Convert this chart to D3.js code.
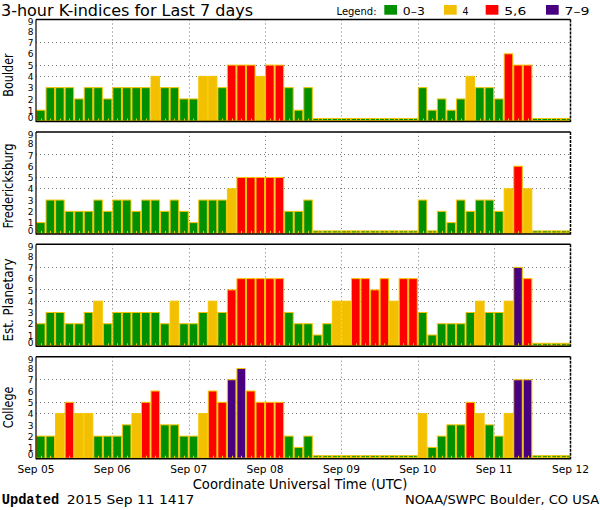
<!DOCTYPE html>
<html><head><meta charset="utf-8">
<script src="https://d3js.org/d3.v7.min.js"></script>
<style>body{margin:0;background:#fff}svg{display:block}</style>
</head><body>
<script>
const stations = ["Boulder", "Fredericksburg", "Est. Planetary", "College"];
const dayLabels = ["Sep 05", "Sep 06", "Sep 07", "Sep 08", "Sep 09", "Sep 10", "Sep 11", "Sep 12"];
const yTicks = [0,1,2,3,4,5,6,7,8,9];
const gridLevels = [4,5,7];
const boulder = [1,3,3,3,2,3,3,2, 3,3,3,3,4,3,3,2, 2,4,4,3,5,5,5,4, 5,5,3,1,3,0,0,0, 0,0,0,0,0,0,0,0, 3,1,2,1,2,4,3,3, 2,6,5,5,0,0,0,0];
const fredericksburg = [1,3,3,2,2,2,3,2, 3,3,2,3,3,2,3,2, 1,3,3,3,4,5,5,5, 5,5,2,2,3,0,0,0, 0,0,0,0,0,0,0,0, 3,0,2,1,3,2,3,3, 2,4,6,4,0,0,0,0];
const planetary = [2,3,3,2,2,3,4,2, 3,3,3,3,3,2,4,2, 2,3,4,3,5,6,6,6, 6,6,3,2,2,1,2,4, 4,6,6,5,6,4,6,6, 3,1,2,2,2,3,4,3, 3,4,7,6,0,0,0,0];
const college = [2,2,4,5,4,4,2,2, 2,3,4,5,6,3,3,2, 2,4,6,5,7,8,6,5, 5,5,2,1,2,0,0,0, 0,0,0,0,0,0,0,0, 4,1,2,3,3,5,4,3, 2,4,7,7,0,0,0,0];
const seriesList = [boulder, fredericksburg, planetary, college];
const legendLabels = ["0\u20133", "4", "5,6", "7\u20139"];

const W = 600, H = 510;
const COL = {green:"#009000", yellow:"#f2c000", red:"#ff0000", purple:"#480080", edge:"#f5c400"};
function colorFor(v){ return v<=3?COL.green : v===4?COL.yellow : v<=6?COL.red : COL.purple; }

const svg = d3.select("body").append("svg").attr("width",W).attr("height",H);
const x = d3.scaleLinear().domain([0,56]).range([36,570.5]);
const panelTop0 = 19.5, panelStep = 112.4, panelH = 101.5;
const font = "'DejaVu Sans', sans-serif";

// title
svg.append("text").attr("x",1).attr("y",16).attr("font-family",font).attr("font-size",16)
  .attr("textLength",252).attr("lengthAdjust","spacingAndGlyphs").text("3-hour K-indices for Last 7 days");

// legend
svg.append("text").attr("x",336.5).attr("y",14.5).attr("font-family",font).attr("font-size",11)
  .attr("textLength",40).attr("lengthAdjust","spacingAndGlyphs").text("Legend:");
const legendCols = [COL.green, COL.yellow, COL.red, COL.purple];
const legX = [384.3, 444, 485.7, 546];
const legTW = [22, 6, 22, 25];
legendLabels.forEach((t,i)=>{
  svg.append("rect").attr("x",legX[i]).attr("y",5).attr("width",12.7).attr("height",9.7).attr("fill",legendCols[i]);
  svg.append("text").attr("x",legX[i]+18.5).attr("y",14.5).attr("font-family",font).attr("font-size",11)
    .attr("textLength",legTW[i]).attr("lengthAdjust","spacingAndGlyphs").text(t);
});

const titleCenter = [75, 186, 300, 407.5];
const titleLen = [43.4, 85, 83, 41.7];

seriesList.forEach((data, p)=>{
  const top = panelTop0 + p*panelStep, bot = top + panelH;
  const y = d3.scaleLinear().domain([0,9]).range([bot, top]);
  const g = svg.append("g");
  // grid
  gridLevels.forEach(l=>{
    g.append("line").attr("x1",x(0)).attr("x2",x(56)).attr("y1",Math.round(y(l))+0.5).attr("y2",Math.round(y(l))+0.5)
      .attr("stroke","#777").attr("stroke-dasharray","1,3");
  });
  for(let d=1; d<7; d++){
    g.append("line").attr("x1",Math.round(x(d*8))+0.5).attr("x2",Math.round(x(d*8))+0.5).attr("y1",top).attr("y2",bot)
      .attr("stroke","#777").attr("stroke-dasharray","1,3");
  }
  // bars
  g.selectAll("rect.bar").data(data).enter().append("rect").attr("class","bar")
    .attr("x",(d,i)=>x(i)+0.5).attr("width",(d,i)=>x(i+1)-x(i)-1)
    .attr("y",d=> d>0 ? y(d)+0.5 : bot-2.5)
    .attr("height",d=> d>0 ? bot-y(d)-0.5 : 2)
    .attr("fill",d=>colorFor(d)).attr("stroke",COL.edge).attr("stroke-width",1);
  // small ticks at bar centres
  g.selectAll("line.tk").data(data).enter().append("line").attr("class","tk")
    .attr("x1",(d,i)=>Math.round(x(i+0.5))+0.5).attr("x2",(d,i)=>Math.round(x(i+0.5))+0.5)
    .attr("y1",bot-2.5).attr("y2",bot).attr("stroke","#e8d000").attr("stroke-width",1);
  // frame
  g.append("line").attr("x1",x(0)).attr("x2",x(56)).attr("y1",top).attr("y2",top).attr("stroke","#000").attr("stroke-width",1.5);
  g.append("line").attr("x1",x(0)).attr("x2",x(56)).attr("y1",bot+0.5).attr("y2",bot+0.5).attr("stroke","#000").attr("stroke-width",1.5);
  g.append("line").attr("x1",x(0)).attr("x2",x(0)).attr("y1",top).attr("y2",bot+1).attr("stroke","#000").attr("stroke-width",1.2);
  g.append("line").attr("x1",x(56)).attr("x2",x(56)).attr("y1",top).attr("y2",bot+1).attr("stroke","#000").attr("stroke-width",1.5)
    .attr("stroke-dasharray","3,1");
  // y tick labels
  yTicks.forEach(t=>{
    let yy = y(t)+1;
    if(t===0) yy = bot-3;
    if(t===9) yy = top+2.8;
    g.append("text").attr("x",33.5).attr("y",yy).attr("dy","0.35em").attr("text-anchor","end")
      .attr("font-family",font).attr("font-size",9).text(t);
  });
  // station title
  g.append("text").attr("transform",`translate(13.3,${titleCenter[p]}) rotate(-90)`).attr("text-anchor","middle")
    .attr("font-family",font).attr("font-size",14).attr("textLength",titleLen[p]).attr("lengthAdjust","spacingAndGlyphs")
    .text(stations[p]);
});

// x labels
dayLabels.forEach((t,i)=>{
  svg.append("text").attr("x",x(i*8)).attr("y",473).attr("text-anchor","middle").attr("font-family",font)
    .attr("font-size",11).attr("textLength",37).attr("lengthAdjust","spacingAndGlyphs").text(t);
});
svg.append("text").attr("x",192.7).attr("y",489).attr("font-family",font).attr("font-size",14)
  .attr("textLength",214.6).attr("lengthAdjust","spacingAndGlyphs").text("Coordinate Universal Time (UTC)");
svg.append("text").attr("x",1.7).attr("y",503.5).attr("font-family","'Liberation Mono', monospace").attr("font-weight","bold")
  .attr("font-size",14).attr("textLength",57.6).attr("lengthAdjust","spacingAndGlyphs").text("Updated");
svg.append("text").attr("x",66.7).attr("y",503.5).attr("font-family",font).attr("font-size",13)
  .attr("textLength",127.6).attr("lengthAdjust","spacingAndGlyphs").text("2015 Sep 11 1417");
svg.append("text").attr("x",405).attr("y",504).attr("font-family",font).attr("font-size",13)
  .attr("textLength",194.3).attr("lengthAdjust","spacingAndGlyphs").text("NOAA/SWPC Boulder, CO USA");
</script>
</body></html>
